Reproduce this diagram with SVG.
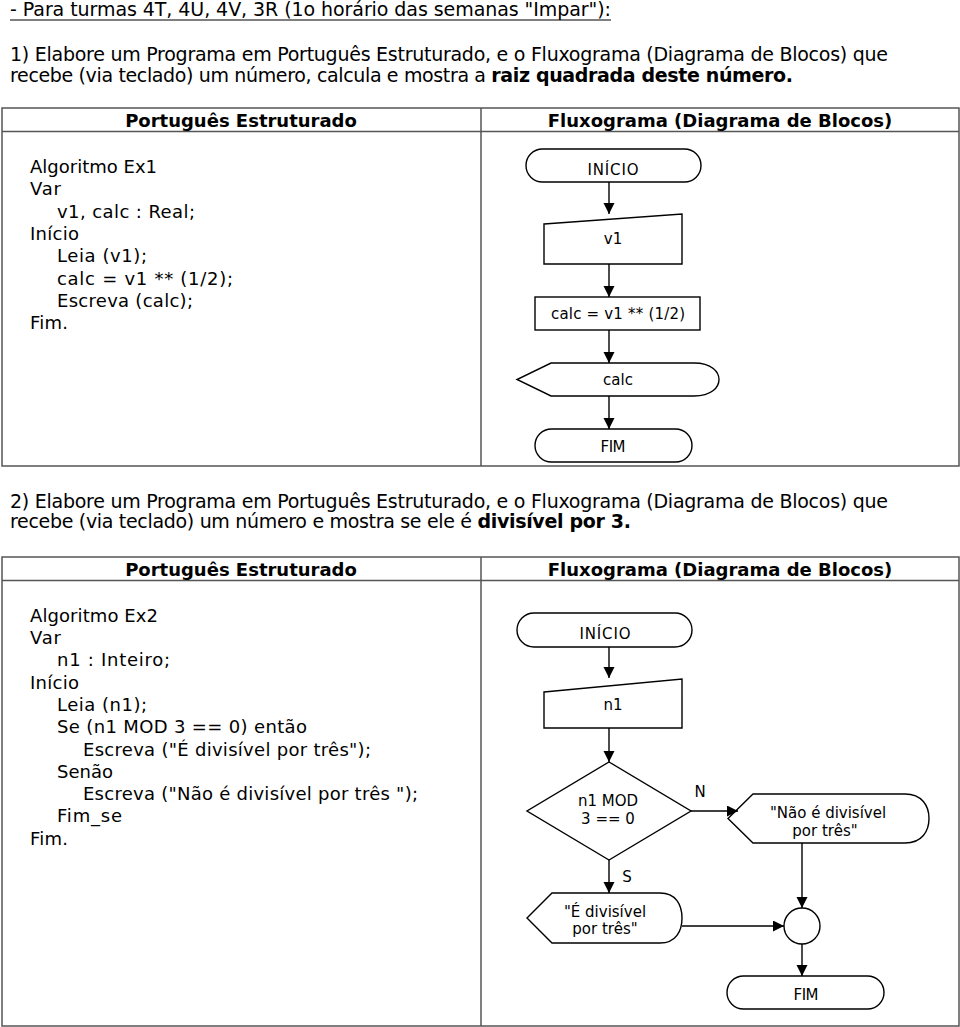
<svg xmlns="http://www.w3.org/2000/svg" width="960" height="1027" viewBox="0 0 960 1027">
<style>
text{font-family:"DejaVu Sans","Liberation Sans",sans-serif;fill:#000}
.p{font-size:19px}
.b{font-weight:bold}
.h{font-size:18px;font-weight:bold;text-anchor:middle}
.c{font-size:18px}
.l{font-size:15px;text-anchor:middle}
.t{font-size:15px;text-anchor:middle}
.tb{fill:none;stroke:#555;stroke-width:1.5}
.s{fill:#fff;stroke:#000;stroke-width:1.4}
.cn line{stroke:#000;stroke-width:1.4}
</style>
<defs>
<marker id="ah" markerUnits="userSpaceOnUse" markerWidth="12" markerHeight="12" refX="11" refY="5.5" orient="auto">
<path d="M0,0 L11,5.5 L0,11 Z" fill="#000"/>
</marker>
</defs>
<rect width="960" height="1027" fill="#fff"/>

<g id="intro1">
<text class="p" x="10" y="16" textLength="601">- Para turmas 4T, 4U, 4V, 3R (1o horário das semanas "Impar"):</text>
<line x1="10" y1="20" x2="611" y2="20" stroke="#000" stroke-width="1.2"/>
<text class="p" x="10" y="61" textLength="878">1) Elabore um Programa em Português Estruturado, e o Fluxograma (Diagrama de Blocos) que</text>
<text class="p" x="10" y="82" textLength="783">recebe (via teclado) um número, calcula e mostra a <tspan class="b">raiz quadrada deste número.</tspan></text>
</g>

<g id="table1">
<rect class="tb" x="2" y="108" width="957" height="358"/>
<line class="tb" x1="2" y1="131.5" x2="959" y2="131.5"/>
<line class="tb" x1="481" y1="108" x2="481" y2="466"/>
<text class="h" x="241" y="127">Português Estruturado</text>
<text class="h" x="720" y="127">Fluxograma (Diagrama de Blocos)</text>
</g>

<g id="code1">
<text class="c" x="30" y="173" textLength="127">Algoritmo Ex1</text>
<text class="c" x="30" y="195" textLength="31">Var</text>
<text class="c" x="57" y="218" textLength="138">v1, calc : Real;</text>
<text class="c" x="30" y="240" textLength="49">Início</text>
<text class="c" x="57" y="262" textLength="90">Leia (v1);</text>
<text class="c" x="57" y="285" textLength="176">calc = v1 ** (1/2);</text>
<text class="c" x="57" y="307" textLength="136">Escreva (calc);</text>
<text class="c" x="30" y="329" textLength="38">Fim.</text>
</g>

<g id="f1-inicio"><rect class="s" x="526" y="149" width="175" height="33" rx="16.5"/><text class="t" x="613" y="175" textLength="51">INÍCIO</text></g>
<g id="f1-v1"><polygon class="s" points="544,224 682,214 682,264 544,264"/><text class="l" x="613" y="244">v1</text></g>
<g id="f1-calc"><rect class="s" x="535" y="297" width="165" height="33"/><text class="l" x="618" y="319" textLength="134">calc = v1 ** (1/2)</text></g>
<g id="f1-out"><path class="s" d="M551,363 L694,363 C712,363 719,372 719,379.5 C719,387 712,396 694,396 L551,396 L517,379.5 Z"/><text class="l" x="618" y="385">calc</text></g>
<g id="f1-fim"><rect class="s" x="535" y="429" width="157" height="33" rx="16.5"/><text class="t" x="613" y="452" textLength="25">FIM</text></g>

<g id="intro2">
<text class="p" x="10" y="508" textLength="878">2) Elabore um Programa em Português Estruturado, e o Fluxograma (Diagrama de Blocos) que</text>
<text class="p" x="10" y="528" textLength="621">recebe (via teclado) um número e mostra se ele é <tspan class="b">divisível por 3.</tspan></text>
</g>

<g id="table2">
<rect class="tb" x="2" y="557" width="957" height="469"/>
<line class="tb" x1="2" y1="580.5" x2="959" y2="580.5"/>
<line class="tb" x1="481" y1="557" x2="481" y2="1026"/>
<text class="h" x="241" y="576">Português Estruturado</text>
<text class="h" x="720" y="576">Fluxograma (Diagrama de Blocos)</text>
</g>

<g id="code2">
<text class="c" x="30" y="622" textLength="128">Algoritmo Ex2</text>
<text class="c" x="30" y="644" textLength="31">Var</text>
<text class="c" x="57" y="666" textLength="113">n1 : Inteiro;</text>
<text class="c" x="30" y="689" textLength="49">Início</text>
<text class="c" x="57" y="711" textLength="90">Leia (n1);</text>
<text class="c" x="57" y="733" textLength="250">Se (n1 MOD 3 == 0) então</text>
<text class="c" x="83" y="756" textLength="288">Escreva ("É divisível por três");</text>
<text class="c" x="57" y="778" textLength="56">Senão</text>
<text class="c" x="83" y="800" textLength="335">Escreva ("Não é divisível por três ");</text>
<text class="c" x="57" y="822" textLength="65">Fim_se</text>
<text class="c" x="30" y="845" textLength="38">Fim.</text>
</g>

<g id="f2-inicio"><rect class="s" x="517" y="613" width="175" height="34" rx="17"/><text class="t" x="605" y="639" textLength="51">INÍCIO</text></g>
<g id="f2-n1"><polygon class="s" points="544,692 682,679 682,728 544,728"/><text class="l" x="613" y="710">n1</text></g>
<g id="f2-dec"><polygon class="s" points="609,762 691,811 609,860 527,811"/><text class="l" x="608" y="806">n1 MOD</text><text class="l" x="608" y="824">3 == 0</text></g>
<g id="f2-nao"><path class="s" d="M753,794 L905,794 C922,794 929,806 929,818.5 C929,831 922,843 905,843 L753,843 L728,818.5 Z"/><text class="l" x="828" y="818">"Não é divisível</text><text class="l" x="825" y="836">por três"</text></g>
<g id="f2-sim"><path class="s" d="M552,893 L660,893 C676,893 682,905 682,918 C682,931 676,943 660,943 L552,943 L527,918 Z"/><text class="l" x="605" y="917">"É divisível</text><text class="l" x="605" y="934">por três"</text></g>
<g id="f2-join"><circle class="s" cx="802" cy="926" r="18"/></g>
<g id="f2-fim"><rect class="s" x="727" y="976" width="157" height="33" rx="16.5"/><text class="t" x="806" y="1000" textLength="25">FIM</text></g>

<g id="connectors" class="cn">
<line x1="609" y1="182" x2="609" y2="214" marker-end="url(#ah)"/>
<line x1="609" y1="264" x2="609" y2="297" marker-end="url(#ah)"/>
<line x1="609" y1="330" x2="609" y2="363" marker-end="url(#ah)"/>
<line x1="609" y1="396" x2="609" y2="429" marker-end="url(#ah)"/>
<line x1="609" y1="647" x2="609" y2="678" marker-end="url(#ah)"/>
<line x1="609" y1="728" x2="609" y2="762" marker-end="url(#ah)"/>
<line x1="691" y1="811" x2="738" y2="811" marker-end="url(#ah)"/>
<line x1="609" y1="860" x2="609" y2="893" marker-end="url(#ah)"/>
<line x1="682" y1="926" x2="784" y2="926" marker-end="url(#ah)"/>
<line x1="802" y1="843" x2="802" y2="908" marker-end="url(#ah)"/>
<line x1="802" y1="944" x2="802" y2="976" marker-end="url(#ah)"/>
<text class="l" x="700" y="797">N</text>
<text class="l" x="627" y="882">S</text>
</g>
</svg>
